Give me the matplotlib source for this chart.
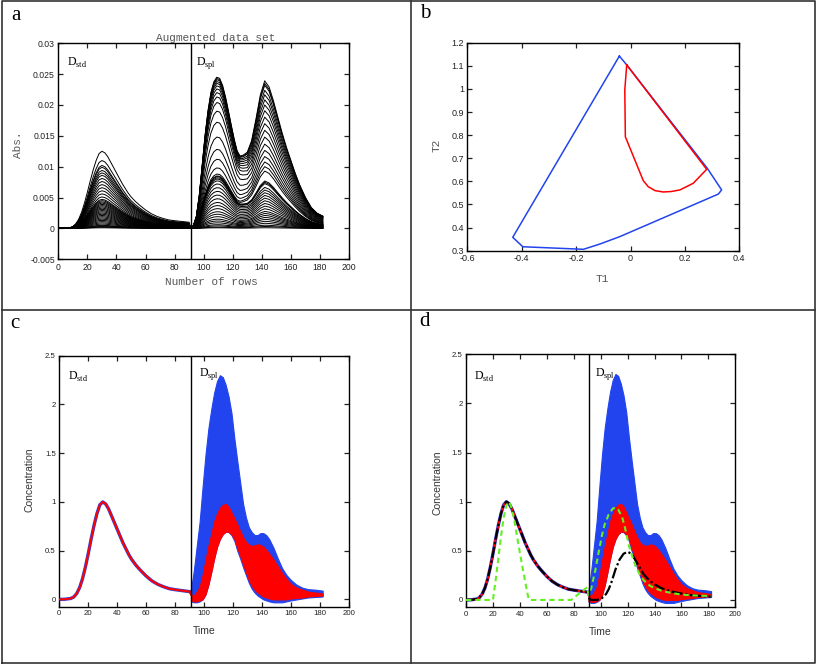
import numpy as np
import matplotlib
matplotlib.use("Agg")
import matplotlib.pyplot as plt
from matplotlib.lines import Line2D

plt.rcParams['axes.unicode_minus'] = False
plt.rcParams['mathtext.fontset'] = 'custom'
plt.rcParams['mathtext.rm'] = 'Liberation Serif'

# ---- elution profile of the standard (rows 0-90), normalised ----
t_std = [0, 4, 8, 10, 12, 14, 16, 18, 20, 22, 24, 26, 28, 30, 32, 34, 36, 38, 40,
         42, 44, 46, 48, 50, 53, 56, 60, 64, 68, 72, 76, 80, 85, 90]
prof_std = [0, 0.002, 0.01, 0.025, 0.06, 0.12, 0.21, 0.33, 0.47, 0.62, 0.76, 0.88,
            0.97, 1.0, 0.98, 0.93, 0.86, 0.79, 0.72, 0.65, 0.58, 0.52, 0.46, 0.41,
            0.35, 0.3, 0.24, 0.19, 0.155, 0.13, 0.11, 0.1, 0.09, 0.08]

# ---- sample part (rows 91-182): two component profiles, normalised ----
t_spl = [91, 93, 95, 97, 99, 101, 103, 105, 107, 109, 111, 113, 115, 117, 119, 121,
         123, 125, 127, 130, 133, 136, 139, 142, 145, 148, 151, 154, 157, 160, 163,
         166, 170, 174, 178, 182]
prof_c1 = [0, 0.02, 0.08, 0.22, 0.42, 0.62, 0.78, 0.9, 0.97, 1.0, 0.99, 0.94, 0.86,
           0.76, 0.65, 0.54, 0.44, 0.36, 0.3, 0.21, 0.14, 0.1, 0.075, 0.058, 0.045,
           0.036, 0.03, 0.025, 0.021, 0.018, 0.016, 0.014, 0.012, 0.01, 0.009, 0.008]
prof_c2 = [0, 0, 0, 0, 0, 0, 0, 0, 0, 0, 0.003, 0.007, 0.012, 0.02, 0.035, 0.055,
           0.08, 0.13, 0.2, 0.32, 0.48, 0.68, 0.88, 1.0, 0.97, 0.88, 0.77, 0.66,
           0.56, 0.47, 0.38, 0.3, 0.21, 0.14, 0.1, 0.08]

# ---- per-wavelength heights ----
h_std = [0.0125, 0.011, 0.0102, 0.0099, 0.0094, 0.009, 0.0086, 0.0081, 0.0076,
         0.0071, 0.0066, 0.0061, 0.0056, 0.0051, 0.0047, 0.0045, 0.0043, 0.0041,
         0.0039, 0.0037, 0.0035, 0.0033, 0.0031, 0.0029, 0.0027, 0.0025, 0.0023,
         0.0021, 0.0019, 0.0017, 0.0015, 0.0013, 0.0011, 0.0009, 0.0007, 0.0005,
         0.0004, 0.0003, 0.0002, 0.0001]
h_peak1 = [0.0245, 0.0243, 0.0241, 0.0238, 0.0235, 0.0231, 0.0226, 0.022, 0.0213,
           0.0204, 0.019, 0.0172, 0.0148, 0.0128, 0.0112, 0.0098, 0.0088, 0.0085,
           0.0084, 0.0082, 0.008, 0.0077, 0.0072, 0.0066, 0.006, 0.0054, 0.0048,
           0.0042, 0.0037, 0.0032, 0.0027, 0.0023, 0.0019, 0.0015, 0.0012, 0.0009,
           0.0006, 0.0004, 0.0002, 0.0001]
h_peak2 = [0.0225, 0.0221, 0.0218, 0.021, 0.0203, 0.0195, 0.0187, 0.0178, 0.0168,
           0.0158, 0.0148, 0.0138, 0.0128, 0.0119, 0.011, 0.0102, 0.0095, 0.0088,
           0.0072, 0.007, 0.0068, 0.0062, 0.0058, 0.0054, 0.005, 0.0046, 0.0042,
           0.0038, 0.0034, 0.003, 0.0026, 0.0023, 0.002, 0.0017, 0.0014, 0.0011,
           0.0008, 0.0005, 0.0003, 0.0001]

# ---- panel b: score plot (T1, T2) ----
blue_t1 = [-0.041, -0.433, -0.396, -0.173, -0.112, -0.039, 0.323, 0.335, 0.282, -0.014, -0.041]
blue_t2 = [1.142, 0.358, 0.317, 0.306, 0.329, 0.361, 0.545, 0.563, 0.657, 1.104, 1.142]
red_t1 = [-0.014, -0.021, -0.019, 0.047, 0.065, 0.09, 0.12, 0.15, 0.182, 0.231, 0.28, -0.014]
red_t2 = [1.104, 0.995, 0.793, 0.603, 0.577, 0.560, 0.554, 0.556, 0.563, 0.592, 0.652, 1.104]

# ---- panels c/d: feasible band limits in the sample part ----
t_band = [91, 93, 95, 97, 99, 101, 103, 105, 107, 109, 111, 113, 115, 117, 119, 121,
          123, 125, 127, 129, 131, 133, 135, 137, 139, 141, 143, 145, 148, 151, 154,
          157, 160, 164, 168, 172, 177, 182]
blue_hi = [0.1, 0.3, 0.55, 0.8, 1.15, 1.48, 1.75, 1.95, 2.12, 2.24, 2.3, 2.28, 2.2,
           2.08, 1.91, 1.65, 1.42, 1.2, 0.98, 0.84, 0.74, 0.69, 0.66, 0.66, 0.68,
           0.68, 0.66, 0.62, 0.53, 0.42, 0.32, 0.25, 0.2, 0.15, 0.12, 0.105, 0.1, 0.09]
blue_lo = [-0.02, -0.03, -0.03, -0.02, 0.0, 0.05, 0.15, 0.28, 0.42, 0.54, 0.62, 0.67,
           0.695, 0.69, 0.66, 0.6, 0.5, 0.42, 0.33, 0.25, 0.17, 0.11, 0.07, 0.04,
           0.02, 0.0, -0.01, -0.02, -0.03, -0.03, -0.03, -0.02, -0.01, 0.0, 0.01,
           0.02, 0.025, 0.03]
red_hi = [0.05, 0.04, 0.08, 0.13, 0.25, 0.4, 0.55, 0.67, 0.8, 0.88, 0.94, 0.97, 0.98,
          0.95, 0.89, 0.83, 0.77, 0.7, 0.64, 0.59, 0.56, 0.55, 0.555, 0.565, 0.56,
          0.54, 0.51, 0.47, 0.41, 0.34, 0.27, 0.21, 0.16, 0.12, 0.1, 0.08, 0.07, 0.06]
red_lo = [-0.01, -0.02, -0.02, -0.01, 0.0, 0.05, 0.15, 0.28, 0.42, 0.54, 0.62, 0.67,
          0.695, 0.695, 0.67, 0.62, 0.53, 0.45, 0.36, 0.28, 0.2, 0.14, 0.1, 0.07,
          0.05, 0.03, 0.02, 0.01, 0.0, 0.0, 0.0, 0.0, 0.01, 0.015, 0.02, 0.03,
          0.035, 0.04]

# ---- panel d: recovered profiles ----
t_black_spl = [91, 93, 97, 100, 102, 104, 106, 108, 111, 114, 117, 120, 123, 126, 129,
               132, 136, 140, 145, 153, 160, 168, 175, 182]
black_spl = [0.02, 0.0, 0.0, 0.01, 0.03, 0.06, 0.11, 0.18, 0.31, 0.41, 0.47, 0.49,
             0.47, 0.4, 0.33, 0.26, 0.2, 0.16, 0.12, 0.085, 0.065, 0.048, 0.04, 0.034]
t_green = [0, 20, 22, 24, 26, 28, 30, 32, 34, 36, 38, 40, 42, 44, 46, 47, 78, 90,
           91, 93, 96, 98, 101, 103, 106, 109, 111, 113, 116, 118, 121, 124, 126,
           129, 132, 136, 140, 146, 153, 160, 170, 182]
green = [0, 0, 0.2, 0.42, 0.65, 0.84, 0.96, 1.0, 0.93, 0.8, 0.64, 0.48, 0.33, 0.18,
         0.04, 0, 0, 0.13, 0.05, 0.12, 0.3, 0.45, 0.66, 0.77, 0.87, 0.93, 0.94,
         0.92, 0.84, 0.74, 0.55, 0.42, 0.34, 0.26, 0.2, 0.15, 0.12, 0.09, 0.07,
         0.055, 0.045, 0.04]

BLUE = '#2244ee'
RED = '#ff0000'
GREEN = '#66ee22'
MONO = 'Liberation Mono'
SANS = 'Liberation Sans'


def style_axes(ax, xticks, yticks, xlim, ylim, size=6):
    ax.set_xlim(xlim)
    ax.set_ylim(ylim)
    ax.set_xticks(xticks)
    ax.set_yticks(yticks)
    ax.set_xticklabels(['%g' % v for v in xticks], fontfamily=SANS)
    ax.set_yticklabels(['%g' % v for v in yticks], fontfamily=SANS)
    ax.tick_params(direction='in', top=True, right=True, length=3.5, width=0.9,
                   labelsize=size, pad=2.5, colors='#222222')
    for sp in ax.spines.values():
        sp.set_linewidth(1.0)


def d_label(ax, x, y, sub):
    ax.text(x, y, r'$\mathrm{D}_{\mathrm{%s}}$' % sub, transform=ax.transAxes,
            fontsize=8.5, va='top', ha='left')


def conc_panel(ax, with_fit):
    ax.plot(t_std, prof_std, color=BLUE, lw=2.4, zorder=2)
    ax.plot(t_std, prof_std, color=RED, lw=1.5, zorder=3)
    ax.plot([90, 91], [prof_std[-1], red_hi[0]], color=RED, lw=1.5, zorder=3)
    ax.fill_between(t_band, blue_lo, blue_hi, color=BLUE, lw=0.8, ec=BLUE, zorder=2)
    ax.fill_between(t_band, red_lo, red_hi, color=RED, lw=0.8, ec=RED, zorder=3)
    if with_fit:
        ax.plot(t_std, prof_std, color='black', lw=1.6, zorder=4,
                dashes=(5, 1.2, 1, 1.2))
        ax.plot(t_black_spl, black_spl, color='black', lw=1.6, zorder=4,
                dashes=(5, 1.2, 1, 1.2))
        ax.plot(t_green, green, color=GREEN, lw=1.5, zorder=5, dashes=(2.6, 1.8))
    ax.axvline(91, color='black', lw=1.0, zorder=6)
    style_axes(ax, list(range(0, 201, 20)), [0, 0.5, 1, 1.5, 2, 2.5],
               (0, 200), (-0.075, 2.5), size=5.6)
    ax.set_xlabel('Time', fontfamily=SANS, fontsize=7.5, color='#333333')
    ax.set_ylabel('Concentration', fontfamily=SANS, fontsize=7.5, color='#333333')


fig = plt.figure(figsize=(8.17, 6.66), dpi=100)

# ---------------- panel a ----------------
ax_a = fig.add_axes([0.0714, 0.6107, 0.3558, 0.3243])
t_all = t_std + t_spl
c1 = np.array(prof_c1)
c2 = np.array(prof_c2)
for hs, p1, p2 in zip(h_std, h_peak1, h_peak2):
    y = list(hs * np.array(prof_std)) + list(p1 * c1 + p2 * c2)
    ax_a.plot(t_all, y, color='black', lw=0.7)
ax_a.axvline(91, color='black', lw=1.0)
style_axes(ax_a, list(range(0, 201, 20)),
           [-0.005, 0, 0.005, 0.01, 0.015, 0.02, 0.025, 0.03], (0, 200), (-0.005, 0.03),
           size=6.2)
ax_a.text(0.541, 1.012, 'Augmented data set', transform=ax_a.transAxes,
          ha='center', va='baseline', fontfamily=MONO, fontsize=8, color='#555555')
ax_a.set_xlabel('Number of rows', fontfamily=MONO, fontsize=8, color='#555555')
ax_a.set_ylabel('Abs.', fontfamily=MONO, fontsize=8, color='#555555')
ax_a.xaxis.set_label_coords(0.527, -0.08)
ax_a.yaxis.set_label_coords(-0.122, 0.53)
d_label(ax_a, 0.03, 0.94, 'std')
d_label(ax_a, 0.474, 0.945, 'spl')

# ---------------- panel b ----------------
ax_b = fig.add_axes([0.572, 0.6236, 0.3329, 0.3123])
ax_b.plot(blue_t1, blue_t2, color=BLUE, lw=1.1)
ax_b.plot(red_t1, red_t2, color=RED, lw=1.1)
style_axes(ax_b, [-0.6, -0.4, -0.2, 0, 0.2, 0.4],
           [0.3, 0.4, 0.5, 0.6, 0.7, 0.8, 0.9, 1, 1.1, 1.2], (-0.6, 0.4), (0.3, 1.2),
           size=6.5)
ax_b.set_xlabel('T1', fontfamily=MONO, fontsize=8, color='#555555')
ax_b.set_ylabel('T2', fontfamily=MONO, fontsize=8, color='#555555')
ax_b.xaxis.set_label_coords(0.495, -0.112)
ax_b.yaxis.set_label_coords(-0.095, 0.508)

# ---------------- panel c ----------------
ax_c = fig.add_axes([0.0726, 0.0890, 0.3542, 0.3769])
conc_panel(ax_c, False)
ax_c.xaxis.set_label_coords(0.5, -0.075)
ax_c.yaxis.set_label_coords(-0.087, 0.505)
d_label(ax_c, 0.031, 0.945, 'std')
d_label(ax_c, 0.484, 0.958, 'spl')

# ---------------- panel d ----------------
ax_d = fig.add_axes([0.5704, 0.0881, 0.3296, 0.3799])
conc_panel(ax_d, True)
ax_d.xaxis.set_label_coords(0.5, -0.076)
ax_d.yaxis.set_label_coords(-0.087, 0.493)
d_label(ax_d, 0.03, 0.94, 'std')
d_label(ax_d, 0.48, 0.953, 'spl')

# ---------------- frame and panel letters ----------------
def fig_line(xs, ys):
    fig.add_artist(Line2D(xs, ys, transform=fig.transFigure, color='#333333', lw=1.2))

x0, x1 = 2 / 817, 815 / 817
y0, y1 = 1 - 663 / 666, 1 - 1 / 666
fig_line([x0, x1, x1, x0, x0], [y0, y0, y1, y1, y0])
fig_line([411 / 817, 411 / 817], [y0, y1])
fig_line([x0, x1], [1 - 310 / 666, 1 - 310 / 666])

for letter, px, py in [('a', 15.5, 16), ('b', 425.5, 14), ('c', 15, 323), ('d', 425, 321)]:
    fig.text(px / 817, 1 - py / 666, letter, fontfamily='Liberation Serif',
             fontsize=15, ha='center', va='center')

fig.savefig('out.png', dpi=100)
